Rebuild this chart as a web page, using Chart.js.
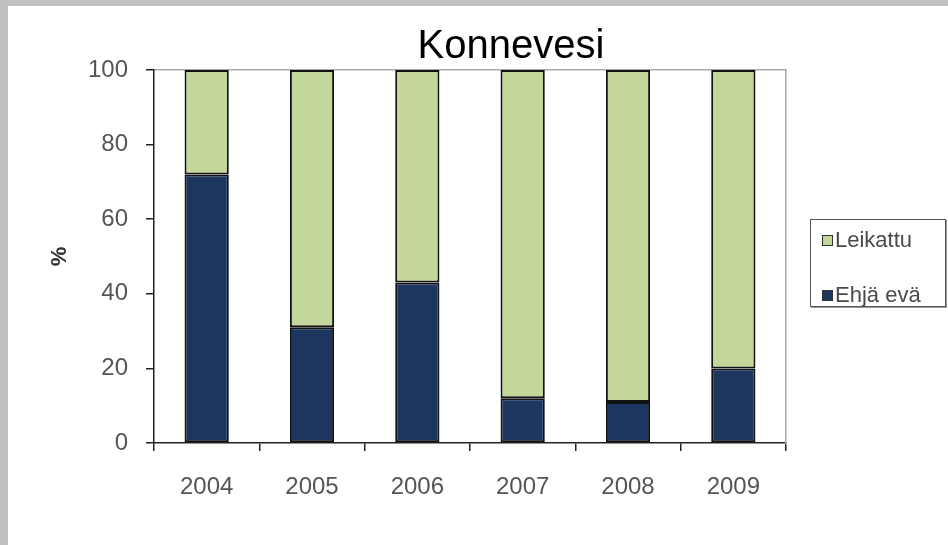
<!DOCTYPE html>
<html>
<head>
<meta charset="utf-8">
<script src="https://cdn.jsdelivr.net/npm/chart.js@4.4.0/dist/chart.umd.min.js"></script>
<style>
  html, body { margin: 0; padding: 0; }
  body { background: #c0c0c0; width: 948px; height: 545px; overflow: hidden; position: relative; }
  #panel { position: absolute; left: 8px; top: 6px; width: 940px; height: 539px; background: #fff; }
  #legend {
    position: absolute; left: 802px; top: 213px; width: 134px; height: 86px;
    border: 1px solid #555; box-shadow: 1px 1px 0 #999; background: #fff;
    font-family: 'Liberation Sans', Arial, sans-serif; font-size: 22px; color: #4a4a4a;
  }
  .item { position: absolute; left: 11px; height: 28px; line-height: 28px; white-space: nowrap; }
  .sw { display: inline-block; width: 9px; height: 9px; border: 1px solid #333; margin-right: 2px; vertical-align: 1px; }
</style>
</head>
<body>
<div id="panel">
  <canvas id="konnevesi-chart" width="940" height="539"></canvas>
  <div id="legend"></div>
</div>
<script>
// Data (percent of fish)
const years = ['2004', '2005', '2006', '2007', '2008', '2009'];
const ehjaEva = [72, 31, 43, 12, 11, 20];
const leikattu = [28, 69, 57, 88, 89, 80];
const yTicks = [0, 20, 40, 60, 80, 100];

const navy = '#1c365f';
const green = '#c4d79b';
const font = "'Liberation Sans', Arial, sans-serif";

// Title is drawn here so it can sit off-centre like the original
const titlePlugin = {
  id: 'offTitle',
  afterDraw(chart) {
    const ctx = chart.ctx;
    ctx.save();
    ctx.font = '40px ' + font;
    ctx.fillStyle = '#000';
    ctx.textAlign = 'center';
    ctx.textBaseline = 'alphabetic';
    ctx.fillText('Konnevesi', 503, 52);
    ctx.restore();
  }
};

var ctx = document.getElementById('konnevesi-chart').getContext('2d');
const chart = new Chart(ctx, {
  type: 'bar',
  data: {
    labels: years,
    datasets: [{
      label: 'Ehjä evä',
      data: ehjaEva,
      backgroundColor: navy,
      borderColor: '#111',
      borderWidth: 2,
      borderSkipped: false
    }, {
      label: 'Leikattu',
      data: leikattu,
      backgroundColor: green,
      borderColor: '#111',
      borderWidth: 2,
      borderSkipped: false
    }]
  },
  options: {
    responsive: false,
    animation: false,
    layout: { padding: { left: 0, top: 64, right: 162, bottom: 42 } },
    plugins: {
      legend: { display: false },
      title: { display: false },
      tooltip: { enabled: false }
    },
    datasets: { bar: { barPercentage: 0.42, categoryPercentage: 1 } },
    scales: {
      x: {
        stacked: true,
        grid: { drawOnChartArea: false, tickLength: 8, color: '#222', lineWidth: 1.5, offset: true },
        border: { color: '#222', width: 1.5 },
        ticks: { color: '#555', font: { family: font, size: 24 }, padding: 22 },
        afterFit(scale) { scale.height = 60; }
      },
      xTop: {
        position: 'top',
        type: 'category',
        labels: years,
        grid: { display: false },
        ticks: { display: false },
        border: { color: '#aaa', width: 1.5 },
        afterFit(scale) { scale.height = 0; }
      },
      y: {
        stacked: true,
        min: 0,
        max: 100,
        afterBuildTicks(scale) { scale.ticks = yTicks.map(v => ({ value: v })); },
        grid: { drawOnChartArea: false, tickLength: 8, color: '#222', lineWidth: 1.5 },
        border: { color: '#222', width: 1.5 },
        ticks: { color: '#555', font: { family: font, size: 24 }, padding: 18 },
        title: { display: true, text: '%', color: '#333', font: { family: font, size: 22, weight: 'bold' }, padding: 39 },
        afterFit(scale) { scale.width = 146; }
      },
      yRight: {
        position: 'right',
        min: 0,
        max: 100,
        grid: { display: false },
        ticks: { display: false },
        border: { color: '#aaa', width: 1.5 },
        afterFit(scale) { scale.width = 0; }
      }
    }
  },
  plugins: [titlePlugin]
});

// Legend box on the right, top series first like the original
const legendEl = document.getElementById('legend');
chart.data.datasets.slice().reverse().forEach((ds, i) => {
  const item = document.createElement('div');
  item.className = 'item';
  item.style.top = (i === 0 ? 6 : 61) + 'px';
  item.innerHTML = '<span class="sw" style="background:' + ds.backgroundColor + '"></span>' + ds.label;
  legendEl.appendChild(item);
});
</script>
</body>
</html>
